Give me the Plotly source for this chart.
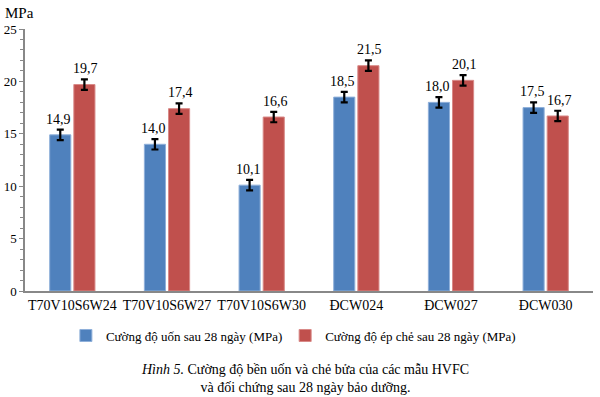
import plotly.graph_objects as go

categories = ["T70V10S6W24", "T70V10S6W27", "T70V10S6W30", "ĐCW024", "ĐCW027", "ĐCW030"]
flexural = [14.9, 14.0, 10.1, 18.5, 18.0, 17.5]
splitting = [19.7, 17.4, 16.6, 21.5, 20.1, 16.7]
flex_err = [0.5, 0.5, 0.5, 0.5, 0.5, 0.5]
split_err = [0.5, 0.5, 0.5, 0.5, 0.5, 0.5]
series_names = ["Cường độ uốn sau 28 ngày (MPa)", "Cường độ ép chẻ sau 28 ngày (MPa)"]
y_ticks = [0, 5, 10, 15, 20, 25]

FONT = "Liberation Serif, Times New Roman, DejaVu Serif, serif"
BLUE = "#4F81BD"
RED = "#C0504D"

def fmt(v):
    return f"{v:.1f}".replace(".", ",")

fig = go.Figure()
fig.add_trace(go.Bar(
    x=categories, y=flexural, name=series_names[0], legend="legend",
    marker=dict(color=BLUE, line=dict(color="#8fb0da", width=1)),
    error_y=dict(type="data", array=flex_err, color="black", thickness=2.2, width=3.5),
))
fig.add_trace(go.Bar(
    x=categories, y=splitting, name=series_names[1], legend="legend2",
    marker=dict(color=RED, line=dict(color="#d98a88", width=1)),
    error_y=dict(type="data", array=split_err, color="black", thickness=2.2, width=3.5),
))

annotations = []
for cat, v, e in zip(categories, flexural, flex_err):
    annotations.append(dict(x=cat, y=v + e, xref="x", yref="y", text=fmt(v), showarrow=False,
                            xshift=-13.5, yshift=1, yanchor="bottom",
                            font=dict(family=FONT, size=14, color="black")))
for cat, v, e in zip(categories, splitting, split_err):
    annotations.append(dict(x=cat, y=v + e, xref="x", yref="y", text=fmt(v), showarrow=False,
                            xshift=13.5, yshift=1, yanchor="bottom",
                            font=dict(family=FONT, size=14, color="black")))
annotations.append(dict(x=0, y=1, xref="paper", yref="paper", text="MPa", showarrow=False,
                        xanchor="left", yanchor="bottom", xshift=-22, yshift=6,
                        font=dict(family=FONT, size=15, color="black")))
annotations.append(dict(x=0.493, y=-0.262, xref="paper", yref="paper",
                        text="<i>Hình 5.</i> Cường độ bền uốn và chẻ bửa của các mẫu HVFC<br>và đối chứng sau 28 ngày bảo dưỡng.",
                        showarrow=False, xanchor="center", yanchor="top", align="center",
                        font=dict(family=FONT, size=14, color="black")))

legend_common = dict(orientation="h", xanchor="left", y=-0.17, yanchor="middle",
                     bgcolor="rgba(0,0,0,0)",
                     font=dict(family=FONT, size=13, color="black"), itemwidth=30)

fig.update_layout(
    width=600, height=397,
    margin=dict(l=25, r=7, t=29, b=105.5, autoexpand=False),
    paper_bgcolor="white", plot_bgcolor="white",
    barmode="group", bargap=0.49, bargroupgap=0.125,
    showlegend=True,
    legend=dict(x=0.072, **legend_common),
    legend2=dict(x=0.458, **legend_common),
    annotations=annotations,
    font=dict(family=FONT, color="black"),
)
fig.update_xaxes(
    showline=True, linecolor="#888888", linewidth=1.5, ticks="", showgrid=False,
    tickfont=dict(family=FONT, size=14, color="black"),
)
fig.update_yaxes(
    range=[0, 25], tickvals=y_ticks, showline=True, linecolor="#888888", linewidth=1.5,
    ticks="outside", ticklen=4, tickcolor="#888888", showgrid=False, zeroline=False,
    minor=dict(ticks="outside", dtick=1, ticklen=3, tickcolor="#888888", showgrid=False),
    tickfont=dict(family=FONT, size=13, color="black"),
)

fig.write_html("out.html", config={"displayModeBar": False},
               post_script="document.body.style.margin='0';document.body.style.overflow='hidden';")
